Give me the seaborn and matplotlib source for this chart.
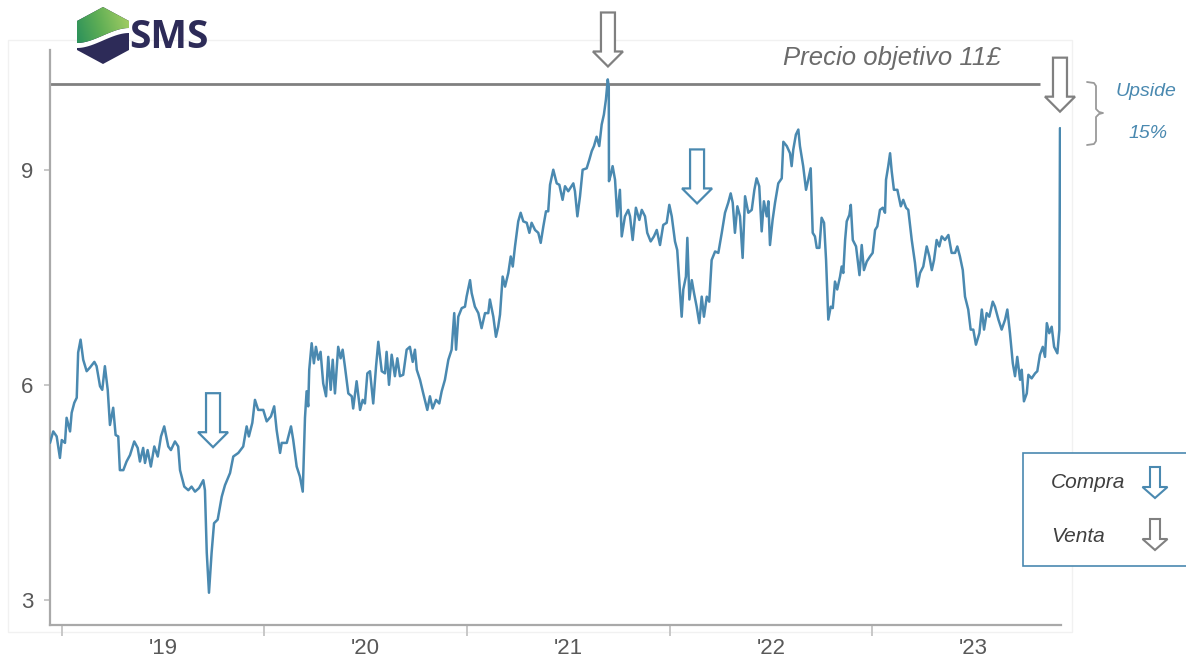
import numpy as np
import pandas as pd
import matplotlib
matplotlib.use("Agg")
import matplotlib.pyplot as plt
import seaborn as sns
from matplotlib.patches import Polygon, Rectangle
from matplotlib.lines import Line2D
from matplotlib.colors import LinearSegmentedColormap

# ---------------------------------------------------------------- data
# share price (GBP), time expressed as decimal years
t_years = [
    2018.941, 2018.957, 2018.974, 2018.990, 2018.999, 2019.015, 2019.023, 2019.040, 2019.048, 2019.061,
    2019.073, 2019.080, 2019.092, 2019.105, 2019.122, 2019.138, 2019.160, 2019.171, 2019.188, 2019.199,
    2019.212, 2019.226, 2019.237, 2019.253, 2019.265, 2019.278, 2019.286, 2019.303, 2019.319, 2019.336,
    2019.357, 2019.374, 2019.385, 2019.401, 2019.410, 2019.423, 2019.439, 2019.456, 2019.473, 2019.489,
    2019.505, 2019.525, 2019.538, 2019.558, 2019.574, 2019.583, 2019.604, 2019.624, 2019.640, 2019.657,
    2019.677, 2019.698, 2019.706, 2019.715, 2019.726, 2019.739, 2019.751, 2019.769, 2019.789, 2019.805,
    2019.830, 2019.846, 2019.871, 2019.895, 2019.912, 2019.923, 2019.940, 2019.953, 2019.969, 2019.994,
    2020.011, 2020.032, 2020.048, 2020.060, 2020.077, 2020.085, 2020.110, 2020.131, 2020.142, 2020.159,
    2020.175, 2020.189, 2020.200, 2020.208, 2020.216, 2020.221, 2020.233, 2020.244, 2020.254, 2020.266,
    2020.277, 2020.290, 2020.304, 2020.315, 2020.327, 2020.337, 2020.348, 2020.364, 2020.376, 2020.386,
    2020.397, 2020.414, 2020.431, 2020.438, 2020.455, 2020.472, 2020.485, 2020.496, 2020.508, 2020.521,
    2020.537, 2020.551, 2020.562, 2020.579, 2020.595, 2020.603, 2020.615, 2020.628, 2020.644, 2020.656,
    2020.669, 2020.685, 2020.702, 2020.718, 2020.732, 2020.743, 2020.752, 2020.768, 2020.784, 2020.804,
    2020.817, 2020.830, 2020.847, 2020.863, 2020.875, 2020.891, 2020.908, 2020.924, 2020.937, 2020.946,
    2020.957, 2020.974, 2020.990, 2020.998, 2021.015, 2021.023, 2021.039, 2021.056, 2021.072, 2021.089,
    2021.105, 2021.113, 2021.130, 2021.143, 2021.154, 2021.163, 2021.176, 2021.188, 2021.204, 2021.216,
    2021.226, 2021.237, 2021.253, 2021.265, 2021.278, 2021.295, 2021.308, 2021.319, 2021.336, 2021.352,
    2021.364, 2021.377, 2021.390, 2021.401, 2021.410, 2021.426, 2021.443, 2021.456, 2021.472, 2021.484,
    2021.500, 2021.525, 2021.533, 2021.545, 2021.558, 2021.571, 2021.591, 2021.604, 2021.616, 2021.627,
    2021.640, 2021.653, 2021.665, 2021.676, 2021.686, 2021.695, 2021.700, 2021.701, 2021.710, 2021.719,
    2021.731, 2021.742, 2021.755, 2021.764, 2021.780, 2021.796, 2021.805, 2021.818, 2021.834, 2021.851,
    2021.863, 2021.879, 2021.890, 2021.907, 2021.923, 2021.937, 2021.953, 2021.969, 2021.986, 2021.999,
    2022.011, 2022.027, 2022.038, 2022.048, 2022.060, 2022.068, 2022.081, 2022.088, 2022.098, 2022.110,
    2022.121, 2022.134, 2022.147, 2022.159, 2022.170, 2022.184, 2022.196, 2022.208, 2022.225, 2022.241,
    2022.258, 2022.274, 2022.290, 2022.302, 2022.312, 2022.323, 2022.335, 2022.348, 2022.361, 2022.373,
    2022.389, 2022.406, 2022.419, 2022.430, 2022.443, 2022.455, 2022.466, 2022.480, 2022.488, 2022.496,
    2022.509, 2022.521, 2022.537, 2022.554, 2022.562, 2022.579, 2022.595, 2022.603, 2022.611, 2022.624,
    2022.636, 2022.644, 2022.660, 2022.674, 2022.685, 2022.697, 2022.707, 2022.718, 2022.727, 2022.740,
    2022.751, 2022.763, 2022.773, 2022.784, 2022.796, 2022.806, 2022.817, 2022.828, 2022.842, 2022.850,
    2022.858, 2022.867, 2022.875, 2022.888, 2022.895, 2022.905, 2022.921, 2022.938, 2022.949, 2022.960,
    2022.974, 2022.990, 2023.003, 2023.015, 2023.026, 2023.039, 2023.053, 2023.064, 2023.069, 2023.080,
    2023.089, 2023.097, 2023.108, 2023.125, 2023.142, 2023.154, 2023.168, 2023.179, 2023.196, 2023.212,
    2023.224, 2023.237, 2023.253, 2023.270, 2023.283, 2023.295, 2023.306, 2023.319, 2023.332, 2023.344,
    2023.360, 2023.377, 2023.393, 2023.410, 2023.421, 2023.434, 2023.448, 2023.459, 2023.475, 2023.487,
    2023.500, 2023.513, 2023.530, 2023.542, 2023.553, 2023.566, 2023.579, 2023.596, 2023.607, 2023.624,
    2023.640, 2023.657, 2023.668, 2023.681, 2023.695, 2023.706, 2023.717, 2023.731, 2023.739, 2023.750,
    2023.764, 2023.772, 2023.788, 2023.805, 2023.816, 2023.829, 2023.843, 2023.854, 2023.863, 2023.875,
    2023.887, 2023.899, 2023.915, 2023.925, 2023.928,
]
close = [
    5.19, 5.35, 5.28, 4.98, 5.23, 5.19, 5.54, 5.35, 5.61, 5.75,
    5.82, 6.45, 6.63, 6.35, 6.19, 6.24, 6.32, 6.26, 5.98, 5.93,
    6.26, 5.93, 5.44, 5.68, 5.30, 5.28, 4.81, 4.81, 4.93, 5.02,
    5.21, 5.12, 4.93, 5.12, 4.91, 5.09, 4.86, 5.14, 5.00, 5.28,
    5.42, 5.14, 5.09, 5.21, 5.14, 4.81, 4.58, 4.53, 4.58, 4.51,
    4.56, 4.67, 4.53, 3.66, 3.10, 3.66, 4.07, 4.12, 4.44, 4.60,
    4.77, 5.00, 5.05, 5.14, 5.42, 5.28, 5.47, 5.79, 5.65, 5.65,
    5.49, 5.56, 5.70, 5.37, 5.05, 5.19, 5.19, 5.42, 5.23, 4.86,
    4.72, 4.51, 5.54, 5.91, 5.70, 6.21, 6.58, 6.30, 6.53, 6.35,
    6.46, 6.02, 5.84, 6.39, 5.93, 6.35, 5.88, 6.53, 6.37, 6.49,
    6.26, 5.88, 5.84, 5.67, 6.05, 5.65, 5.79, 5.74, 6.16, 6.19,
    5.74, 6.26, 6.60, 6.19, 6.16, 6.46, 6.00, 6.42, 6.12, 6.37,
    6.12, 6.14, 6.49, 6.53, 6.32, 6.49, 6.21, 6.07, 5.88, 5.65,
    5.84, 5.67, 5.79, 5.74, 5.91, 6.07, 6.35, 6.49, 7.00, 6.49,
    6.95, 7.07, 7.09, 7.23, 7.46, 7.28, 7.09, 7.00, 6.79, 7.00,
    7.00, 7.19, 6.95, 6.67, 6.81, 6.98, 7.51, 7.37, 7.56, 7.79,
    7.65, 7.93, 8.28, 8.40, 8.28, 8.26, 8.12, 8.26, 8.16, 8.12,
    7.98, 8.21, 8.42, 8.42, 8.79, 9.00, 8.81, 8.79, 8.58, 8.77,
    8.70, 8.81, 8.70, 8.35, 8.63, 9.00, 9.02, 9.14, 9.26, 9.33,
    9.46, 9.33, 9.63, 9.77, 9.98, 10.26, 10.16, 8.84, 8.93, 9.05,
    8.86, 8.35, 8.72, 8.07, 8.35, 8.44, 8.35, 8.02, 8.47, 8.30,
    8.44, 8.35, 8.12, 8.00, 8.07, 8.16, 7.95, 8.23, 8.26, 8.51,
    8.35, 8.00, 7.88, 7.46, 6.95, 7.33, 7.51, 8.05, 7.19, 7.46,
    7.28, 7.09, 6.86, 7.23, 6.95, 7.23, 7.16, 7.74, 7.86, 7.84,
    8.12, 8.40, 8.54, 8.67, 8.54, 8.12, 8.49, 8.35, 7.77, 8.63,
    8.40, 8.44, 8.72, 8.88, 8.77, 8.14, 8.56, 8.35, 8.56, 7.95,
    8.30, 8.54, 8.81, 8.88, 9.39, 9.33, 9.23, 9.05, 9.28, 9.49,
    9.56, 9.33, 9.05, 8.72, 8.86, 9.02, 8.12, 8.07, 7.91, 7.91,
    8.33, 8.26, 7.74, 6.91, 7.09, 7.07, 7.44, 7.33, 7.51, 7.65,
    7.56, 8.02, 8.28, 8.37, 8.51, 8.02, 7.93, 7.53, 7.95, 7.60,
    7.72, 7.79, 7.84, 8.16, 8.21, 8.44, 8.47, 8.40, 8.86, 9.05,
    9.23, 8.98, 8.72, 8.72, 8.49, 8.58, 8.47, 8.44, 8.02, 7.70,
    7.37, 7.56, 7.65, 7.93, 7.79, 7.60, 7.74, 8.02, 7.93, 8.07,
    8.02, 8.09, 7.84, 7.84, 7.93, 7.79, 7.60, 7.23, 7.05, 6.77,
    6.77, 6.56, 6.72, 7.05, 6.77, 7.00, 6.95, 7.16, 7.09, 6.91,
    6.77, 6.91, 7.05, 6.72, 6.30, 6.12, 6.39, 6.07, 6.21, 5.77,
    5.88, 6.14, 6.09, 6.16, 6.19, 6.42, 6.53, 6.39, 6.86, 6.72,
    6.81, 6.53, 6.44, 6.77, 9.58,
]

target_price = 10.2           # horizontal "precio objetivo" reference
target_end = 2023.83
year_ticks = [2019, 2020, 2021, 2022, 2023]
year_labels = ["'19", "'20", "'21", "'22", "'23"]
price_ticks = [3, 6, 9]

# buy / sell signals: (time, price at arrow tip)
buy_signals = [(2019.746, 5.13), (2022.136, 8.53)]
sell_signals = [(2021.696, 10.44), (2023.928, 9.81)]

# ---------------------------------------------------------------- style
BLUE = "#4a89b0"
GREY = "#808080"
TEXT = "#595959"
NAVY = "#2d2b58"

sns.set_theme(style="ticks")
plt.rcParams["font.family"] = ["Liberation Sans", "DejaVu Sans"]

W, H = 1186, 661
fig = plt.figure(figsize=(W / 100, H / 100), dpi=100, facecolor="white")


def P(x, y):
    """pixel position (origin top-left) -> figure fraction"""
    return (x / W, 1 - y / H)


# faint outer frame
fig.add_artist(Rectangle(P(8, 632), (1072 - 8) / W, (632 - 40) / H, transform=fig.transFigure,
                         facecolor="none", edgecolor="#f1f1f1", lw=1.0, zorder=0))

ax = fig.add_axes([50 / W, 1 - 625 / H, (1061 - 50) / W, (625 - 50) / H])
ax.set_facecolor("none")

df = pd.DataFrame({"t": t_years, "close": close})
sns.lineplot(data=df, x="t", y="close", ax=ax, color=BLUE, lw=1.8,
             sort=False, estimator=None, zorder=3)
ax.hlines(target_price, 2018.941, target_end, color=GREY, lw=2.0, zorder=2)

ax.set_xlim(2018.941, 2023.933)
ax.set_ylim(2.65, 10.67)
ax.set_xlabel("")
ax.set_ylabel("")

for side in ("top", "right"):
    ax.spines[side].set_visible(False)
for side in ("left", "bottom"):
    ax.spines[side].set_color("#a9a9a9")
    ax.spines[side].set_linewidth(1.6)

ax.set_xticks(year_ticks)
ax.set_xticklabels([])
ax.set_xticks([y + 0.5 for y in year_ticks], minor=True)
ax.set_xticklabels(year_labels, minor=True)
ax.tick_params(axis="x", which="major", length=8, width=1.3, color="#c4c4c4", bottom=True)
ax.tick_params(axis="x", which="minor", length=0, pad=9, labelsize=16, labelcolor=TEXT)
ax.set_yticks(price_ticks)
ax.set_yticklabels([str(v) for v in price_ticks])
ax.tick_params(axis="y", length=4, width=1.3, color="#c4c4c4", pad=8,
               labelsize=16, labelcolor=TEXT, left=True)


def hollow_arrow(tip, color, height, shaft_w, head_w, head_h, lw=1.6):
    tx, ty = tip
    pts = [(tx - shaft_w / 2, ty + height), (tx + shaft_w / 2, ty + height),
           (tx + shaft_w / 2, ty + head_h), (tx + head_w / 2, ty + head_h),
           (tx, ty), (tx - head_w / 2, ty + head_h), (tx - shaft_w / 2, ty + head_h)]
    pts = fig.transFigure.inverted().transform(pts)
    fig.add_artist(Polygon(pts, closed=True, facecolor="white", edgecolor=color, lw=lw,
                           joinstyle="miter", transform=fig.transFigure, zorder=5))


for t, v in buy_signals:
    hollow_arrow(ax.transData.transform((t, v)), BLUE, 54, 14, 30, 15)
for t, v in sell_signals:
    hollow_arrow(ax.transData.transform((t, v)), GREY, 54, 14, 30, 15)

# target label
fig.text(*P(892, 58), "Precio objetivo 11£", ha="center", va="center", fontsize=18.5,
         style="italic", color="#6b6b6b")

# upside brace
brace = [(1087, 82), (1094, 83), (1096, 86), (1096, 109), (1099, 112), (1103, 113),
         (1099, 114), (1096, 117), (1096, 141), (1094, 144), (1087, 145)]
bx, by = zip(*[P(x, y) for x, y in brace])
fig.add_artist(Line2D(bx, by, color="#9a9a9a", lw=1.3, transform=fig.transFigure))
fig.text(*P(1146, 92), "Upside", ha="center", va="center", fontsize=14, style="italic", color=BLUE)
fig.text(*P(1148, 133), "15%", ha="center", va="center", fontsize=14, style="italic", color=BLUE)

# legend box
fig.add_artist(Rectangle(P(1023, 566), (1192 - 1023) / W, (566 - 453) / H, transform=fig.transFigure,
                         facecolor="white", edgecolor=BLUE, lw=1.2, zorder=4))
fig.text(*P(1051, 482), "Compra", ha="left", va="center", fontsize=15, style="italic",
         color="#404040", zorder=6)
fig.text(*P(1051, 537), "Venta", ha="left", va="center", fontsize=15, style="italic",
         color="#404040", zorder=6)
hollow_arrow((1155, H - 498), BLUE, 31, 10, 25, 11, lw=1.5)
hollow_arrow((1155, H - 550), GREY, 31, 10, 25, 11, lw=1.5)

# ---------------------------------------------------------------- logo
lax = fig.add_axes([76 / W, 1 - 65 / H, 54 / W, 59 / H])
hexagon = [(103, 7), (129, 21), (129, 50), (103, 64), (77, 50), (77, 21)]
lax.add_patch(Polygon(hexagon, closed=True, facecolor=NAVY, edgecolor="none", zorder=1))
xs = np.linspace(77, 129, 40)
u = (xs - 77) / 52
s = u * u * (3 - 2 * u)
green_bottom = 43 - 15 * s
navy_top = 48 - 15 * s
band = list(zip(xs, green_bottom)) + list(zip(xs[::-1], navy_top[::-1]))
lax.add_patch(Polygon(band, closed=True, facecolor="white", edgecolor="none", zorder=2))
green_pts = [(77, 21), (103, 7), (129, 21)] + list(zip(xs[::-1], green_bottom[::-1]))
green_patch = Polygon(green_pts, closed=True, facecolor="none", edgecolor="none",
                      transform=lax.transData)
gx, gy = np.meshgrid(np.linspace(0, 1, 60), np.linspace(0, 1, 60))
grad = np.clip(0.75 * gx + 0.25 * (1 - gy), 0, 1)
gcmap = LinearSegmentedColormap.from_list("g", ["#1f8a5c", "#5fae55", "#a9d065"])
im = lax.imshow(grad, cmap=gcmap, extent=(77, 129, 64, 7), origin="upper",
                aspect="auto", interpolation="bilinear", zorder=3)
im.set_clip_path(green_patch)
lax.set_xlim(76, 130)
lax.set_ylim(65, 6)
lax.axis("off")
fig.text(*P(129, 37), "SMS", ha="left", va="center", fontsize=28, color=NAVY,
         fontweight="bold", family=["Open Sans", "DejaVu Sans"])

fig.savefig("out.png", dpi=100, facecolor="white")
